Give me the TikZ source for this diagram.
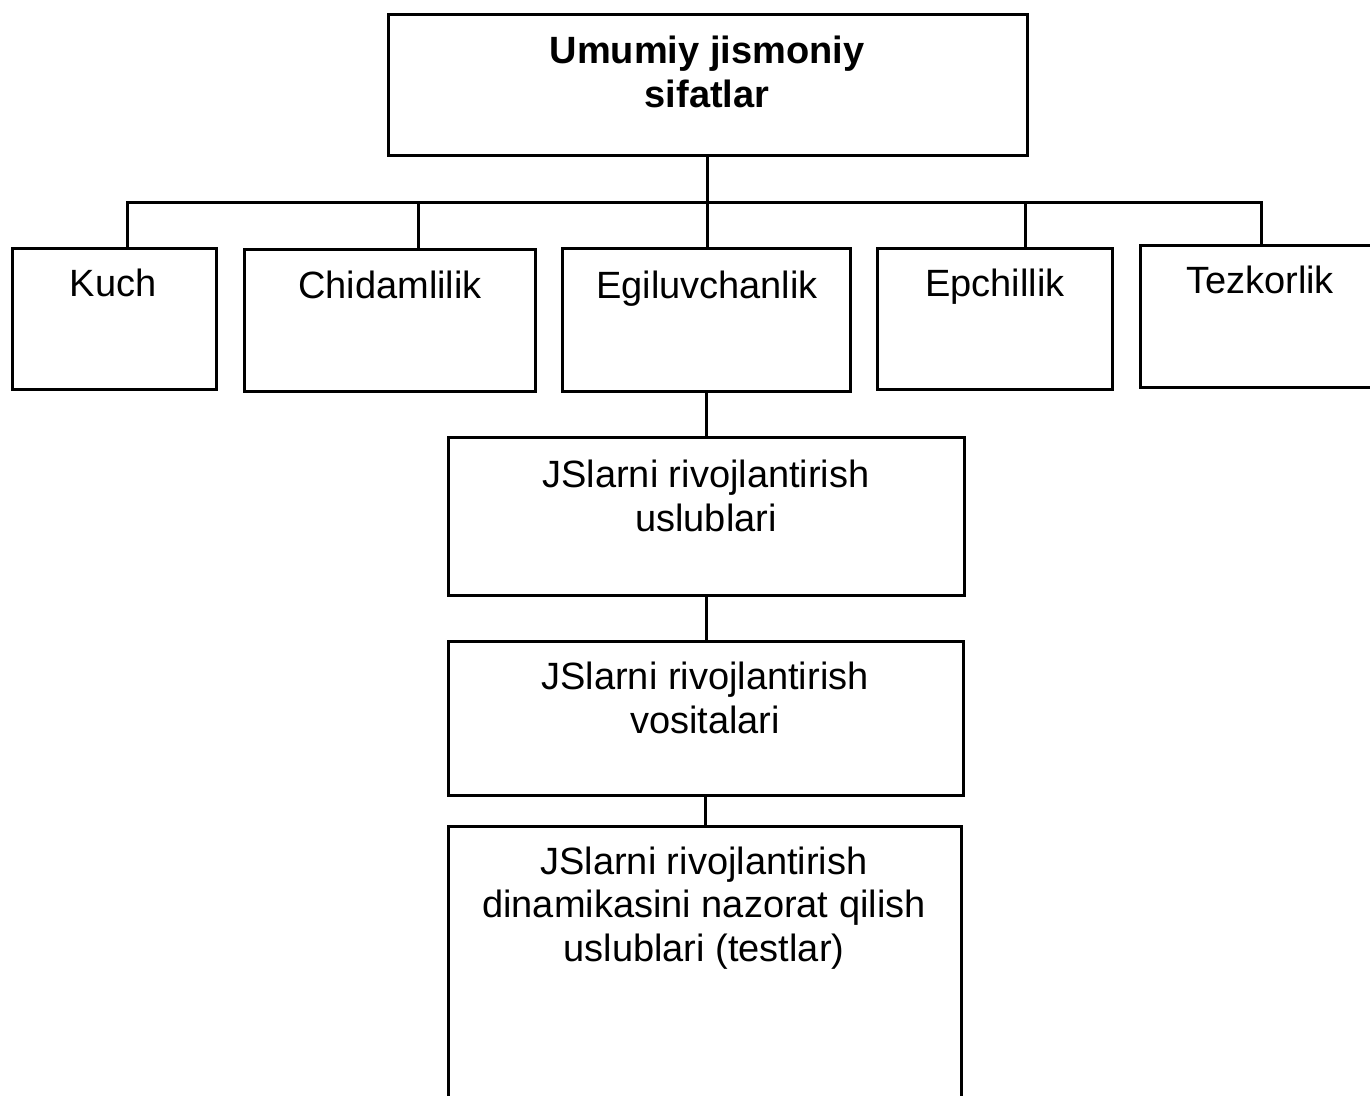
\documentclass[tikz,border=0pt]{standalone}
\usepackage{fontspec}
\setmainfont{Liberation Sans}
\begin{document}
\begin{tikzpicture}[x=1pt,y=-1pt,
  box/.style={draw, line width=3pt, rectangle, inner sep=0pt, outer sep=0pt},
  lbl/.style={font=\fontsize{38}{43.5}\selectfont, align=center, anchor=base, inner sep=0pt},
  conn/.style={line width=3pt}]
\useasboundingbox (0,0) rectangle (1370,1095);
\clip (0,0) rectangle (1370,1095);
\fill[white] (0,0) rectangle (1370,1095);
% boxes
\node[box, minimum width=639pt, minimum height=141pt] (top) at (707.5,84.5) {};
\node[box, minimum width=204pt, minimum height=141pt] (kuch) at (114,318.5) {};
\node[box, minimum width=291pt, minimum height=142pt] (chid) at (389.5,320) {};
\node[box, minimum width=288pt, minimum height=143pt] (egil) at (706,319.5) {};
\node[box, minimum width=235pt, minimum height=141pt] (epch) at (994.5,318.5) {};
\node[box, minimum width=260pt, minimum height=142pt] (tezk) at (1270,316) {};
\node[box, minimum width=516pt, minimum height=158pt] (js1) at (706,516) {};
\node[box, minimum width=515pt, minimum height=154pt] (js2) at (705.5,718) {};
\node[box, minimum width=513pt, minimum height=294pt] (js3) at (704.5,973) {};
% texts (base anchor = baseline of last line)
\node[lbl, font=\fontsize{38}{44}\selectfont\bfseries] (topT) at (707,107) {Umumiy jismoniy\\sifatlar};
\node[lbl] (kuchT) at (113,296) {Kuch};
\node[lbl] (chidT) at (390,298) {Chidamlilik};
\node[lbl] (egilT) at (707,298) {Egiluvchanlik};
\node[lbl] (epchT) at (995,296) {Epchillik};
\node[lbl] (tezkT) at (1260,293) {Tezkorlik};
\node[lbl] (js1T) at (706,531) {JSlarni rivojlantirish\\uslublari};
\node[lbl] (js2T) at (705,733) {JSlarni rivojlantirish\\vositalari};
\node[lbl] (js3T) at (704,961) {JSlarni rivojlantirish\\dinamikasini nazorat qilish\\uslublari (testlar)};
% connectors
\coordinate (bus) at (707,202);
\draw[conn] (top.south) -- (top.south |- egil.north);
\draw[conn] ([xshift=13pt]kuch.north) |- (bus);
\draw[conn] ([xshift=28.5pt]chid.north) |- (bus);
\draw[conn] ([xshift=30.5pt]epch.north) |- (bus);
\draw[conn] ([xshift=-9pt]tezk.north) |- (bus);
\draw[conn] (egil.south) -- (egil.south |- js1.north);
\draw[conn] (js1.south) -- (js1.south |- js2.north);
\draw[conn] (js2.south) -- (js2.south |- js3.north);
\end{tikzpicture}
\end{document}
